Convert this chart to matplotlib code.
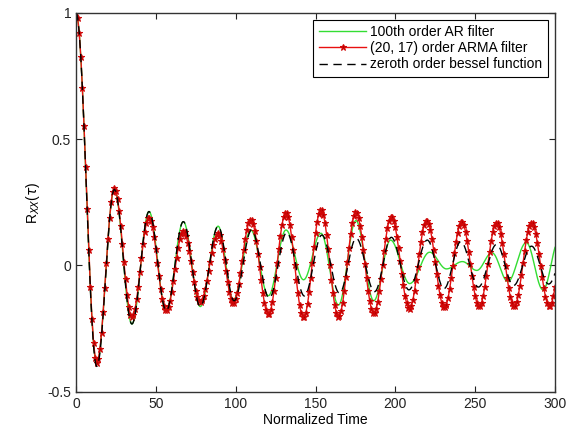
import numpy as np
import matplotlib
matplotlib.use('Agg')
import matplotlib.pyplot as plt

plt.rcParams['font.family'] = ['Liberation Sans', 'DejaVu Sans']
plt.rcParams['font.size'] = 10

# Turning points (time, value) of each curve.
# The last point of each list sits just past the right edge (x = 300).
ar_t = [0, 13, 24, 35, 45.7, 56.5, 67.2, 77.8, 89, 98.5, 109.5, 120.5, 131.5,
        142.5, 153.4, 164.4, 175.3, 186.5, 197, 209, 221.5, 232, 242, 251,
        260.5, 270.5, 282, 292.5, 302.5]
ar_v = [1.0, -0.39, 0.30, -0.232, 0.213, -0.18, 0.173, -0.163, 0.155, -0.137,
        0.14, -0.12, 0.14, -0.057, 0.127, -0.157, 0.177, -0.14, 0.10, -0.072,
        0.052, -0.014, 0.015, -0.02, 0.05, -0.064, 0.09, -0.097, 0.10]

arma_t = [0, 13, 24, 35, 45.7, 56.5, 67.2, 77.8, 89, 98.5, 109.5, 120.5, 131.5,
          142.5, 153.4, 164.4, 175.3, 186.5, 197.5, 208.8, 219.6, 230.7, 241.5,
          252.5, 263.4, 274.4, 285.3, 296.5, 307.5]
arma_v = [1.0, -0.385, 0.305, -0.205, 0.19, -0.18, 0.135, -0.145, 0.127, -0.15,
          0.182, -0.195, 0.21, -0.207, 0.222, -0.204, 0.21, -0.19, 0.193, -0.172,
          0.178, -0.167, 0.173, -0.163, 0.169, -0.163, 0.169, -0.163, 0.169]

bessel_t = [0, 13, 24, 35, 45.7, 56.5, 67.2, 77.8, 89, 99, 110, 121, 132, 143,
            154, 165, 175.5, 187, 197.5, 208.5, 220, 230.5, 241, 252, 263.4, 274,
            285.3, 296, 307]
bessel_v = [1.0, -0.40, 0.30, -0.232, 0.213, -0.18, 0.173, -0.163, 0.155, -0.14,
            0.14, -0.13, 0.13, -0.121, 0.12, -0.11, 0.107, -0.104, 0.111, -0.097,
            0.10, -0.092, 0.094, -0.086, 0.083, -0.08, 0.076, -0.074, 0.072]

labels = ['100th order AR filter', '(20, 17) order ARMA filter',
          'zeroth order bessel function']


# smooth half-cosine swing from one turning point to the next
def through_peaks(tp, vp, t):
    tp = np.asarray(tp, float)
    vp = np.asarray(vp, float)
    i = np.clip(np.searchsorted(tp, t, side='right') - 1, 0, len(tp) - 2)
    frac = (t - tp[i]) / (tp[i + 1] - tp[i])
    w = (1 - np.cos(np.pi * frac)) / 2
    return vp[i] + (vp[i + 1] - vp[i]) * w


t_fine = np.linspace(0, 300, 1201)
t_lags = np.arange(0, 301)

fig = plt.figure(figsize=(5.69, 4.32), dpi=100)
ax = fig.add_axes([0.1336, 0.0933, 0.8418, 0.8773])

ax.plot(t_fine, through_peaks(ar_t, ar_v, t_fine), color='#33dd33', lw=1,
        label=labels[0])
ax.plot(t_lags, through_peaks(arma_t, arma_v, t_lags), color='#e81010', lw=1,
        marker='*', ms=4.5, mew=0.8, mec='#d00808', mfc='#b00000', label=labels[1])
ax.plot(t_fine, through_peaks(bessel_t, bessel_v, t_fine), color='black', lw=1,
        dashes=(6, 4), label=labels[2])

ax.set_xlim(0, 300)
ax.set_ylim(-0.5, 1)
ax.set_xticks([0, 50, 100, 150, 200, 250, 300])
ax.set_yticks([-0.5, 0, 0.5, 1])
ax.set_yticklabels(['-0.5', '0', '0.5', '1'])
ax.tick_params(direction='in', top=True, right=True, length=4, width=0.8,
               labelsize=10, colors='#222222')
for s in ax.spines.values():
    s.set_linewidth(1)
    s.set_color('#333333')

ax.set_xlabel('Normalized Time', labelpad=2)
ax.set_ylabel(r'R$_{XX}$($\tau$)', labelpad=4)

leg = ax.legend(loc='upper right', fancybox=False, edgecolor='black',
                framealpha=1, handlelength=3.4, handletextpad=0.3,
                labelspacing=0.15, borderpad=0.4, borderaxespad=0.5,
                fontsize=10)
leg.get_frame().set_linewidth(0.8)

fig.savefig('out.png', dpi=100)
